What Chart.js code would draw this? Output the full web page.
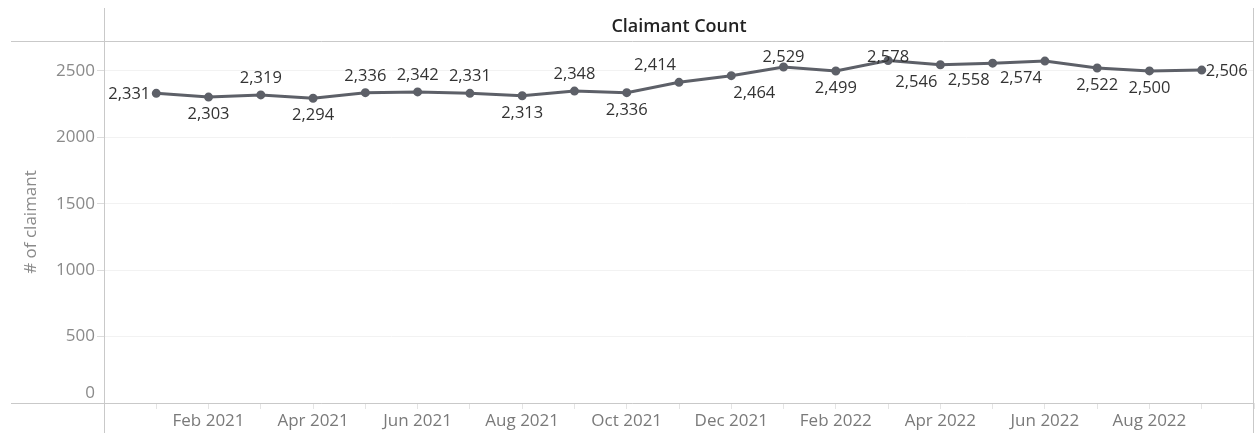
<!DOCTYPE html>
<html>
<head>
<meta charset="utf-8">
<script src="https://cdn.jsdelivr.net/npm/chart.js@4.4.1/dist/chart.umd.min.js"></script>
<style>
  html, body { margin: 0; padding: 0; background: #fff; }
  #wrap { width: 1260px; height: 433px; position: relative; }
</style>
</head>
<body>
<div id="wrap"><canvas id="chart"></canvas></div>
<script>
// 월별 청구인 수 (Jan 2021 ~ Sep 2022)
const months = [
  'Jan 2021', 'Feb 2021', 'Mar 2021', 'Apr 2021', 'May 2021', 'Jun 2021', 'Jul 2021',
  'Aug 2021', 'Sep 2021', 'Oct 2021', 'Nov 2021', 'Dec 2021', 'Jan 2022', 'Feb 2022',
  'Mar 2022', 'Apr 2022', 'May 2022', 'Jun 2022', 'Jul 2022', 'Aug 2022', 'Sep 2022',
];
const claimants = [
  2331, 2303, 2319, 2294, 2336, 2342, 2331, 2313, 2348, 2336, 2414,
  2464, 2529, 2499, 2578, 2546, 2558, 2574, 2522, 2500, 2506,
];
const yTicks = [0, 500, 1000, 1500, 2000, 2500];

// 라벨 위치 (위/아래/왼쪽/오른쪽)
const labelPlacement = [
  'left', 'below', 'above', 'below', 'above', 'above', 'above',
  'below', 'above', 'below', 'above-left', 'below-right', 'above', 'below',
  'above', 'below-left', 'below-left', 'below-left', 'below', 'below', 'right',
];

const GRID = '#c9c9c9';
const LINE = '#5d6068';
const FONT = '"Open Sans", "DejaVu Sans", sans-serif';

// 테두리 선들
const framePlugin = {
  id: 'frame',
  beforeDatasetsDraw(chart) {
    const { ctx, chartArea } = chart;
    const { left, right, top, bottom } = chartArea;
    ctx.save();
    ctx.strokeStyle = GRID;
    ctx.lineWidth = 1;
    ctx.beginPath();
    ctx.moveTo(11, top + 0.5);
    ctx.lineTo(right, top + 0.5);
    ctx.moveTo(11, bottom + 0.5);
    ctx.lineTo(right, bottom + 0.5);
    ctx.moveTo(left + 0.5, 8);
    ctx.lineTo(left + 0.5, chart.height);
    ctx.moveTo(right - 0.5, 8);
    ctx.lineTo(right - 0.5, chart.height);
    ctx.stroke();
    ctx.restore();
  },
};

// 제목
const titlePlugin = {
  id: 'paneTitle',
  afterDraw(chart) {
    const { ctx, chartArea } = chart;
    ctx.save();
    ctx.font = '600 18px ' + FONT;
    ctx.fillStyle = '#222';
    ctx.textAlign = 'center';
    ctx.textBaseline = 'alphabetic';
    ctx.fillText('Claimant Count', (chartArea.left + chartArea.right) / 2, 32);
    ctx.restore();
  },
};

// 값 라벨
const pointLabels = {
  id: 'pointLabels',
  afterDatasetsDraw(chart) {
    const { ctx, chartArea } = chart;
    const meta = chart.getDatasetMeta(0);
    ctx.save();
    ctx.font = '16.5px ' + FONT;
    ctx.fillStyle = '#333';
    ctx.textBaseline = 'alphabetic';
    meta.data.forEach((pt, i) => {
      const text = claimants[i].toLocaleString('en-US');
      const p = labelPlacement[i];
      let x = pt.x;
      let y = pt.y;
      let align = 'center';
      if (p.startsWith('above')) y = Math.max(pt.y - 12, chartArea.top + 21);
      if (p.startsWith('below')) y = pt.y + 22;
      if (p.endsWith('-left')) x -= 24;
      if (p.endsWith('-right')) x += 23;
      if (p === 'left') { x -= 6; y += 6; align = 'right'; }
      if (p === 'right') { x += 4; y += 6; align = 'left'; }
      ctx.textAlign = align;
      ctx.fillText(text, x, y);
    });
    ctx.restore();
  },
};

const ctx = document.getElementById('chart').getContext('2d');
new Chart(ctx, {
  type: 'line',
  data: {
    datasets: [{
      data: claimants.map((v, i) => ({ x: i, y: v })),
      borderColor: LINE,
      backgroundColor: LINE,
      borderWidth: 3,
      pointRadius: 3,
      pointHoverRadius: 3,
      tension: 0,
    }],
  },
  options: {
    responsive: true,
    maintainAspectRatio: false,
    animation: false,
    layout: { padding: { left: 10, top: 41, right: 2, bottom: 0 } },
    plugins: {
      legend: { display: false },
      tooltip: { enabled: false },
    },
    scales: {
      x: {
        type: 'linear',
        min: -1,
        max: months.length,
        afterBuildTicks: (scale) => {
          scale.ticks = [];
          for (let i = -1; i <= months.length; i++) scale.ticks.push({ value: i });
        },
        afterFit: (scale) => { scale.height = 30; },
        border: { display: false },
        grid: { drawOnChartArea: false, color: '#e4e4e4', tickLength: 6 },
        ticks: {
          autoSkip: false,
          maxRotation: 0,
          padding: 2,
          color: '#7a7a7a',
          font: { family: FONT, size: 17 },
          callback: (v) => (v % 2 === 1 && months[v] ? months[v] : ''),
        },
      },
      y: {
        min: 0,
        max: 2725,
        afterBuildTicks: (scale) => {
          scale.ticks = yTicks.map((v) => ({ value: v }));
        },
        afterFit: (scale) => { scale.width = 94; },
        border: { display: false },
        grid: { color: '#f2f2f2', tickColor: '#dcdcdc', tickLength: 7 },
        title: {
          display: true,
          text: '# of claimant',
          color: '#8a8a8a',
          font: { family: FONT, size: 17 },
          padding: { top: 11, bottom: 0 },
        },
        ticks: {
          padding: 2,
          color: '#8a8a8a',
          font: { family: FONT, size: 17 },
          // 0 라벨은 테두리 위로 올림
          callback: (v) => (v === 0 ? ['0', ''] : String(v)),
        },
      },
    },
  },
  plugins: [framePlugin, titlePlugin, pointLabels],
});
</script>
</body>
</html>
